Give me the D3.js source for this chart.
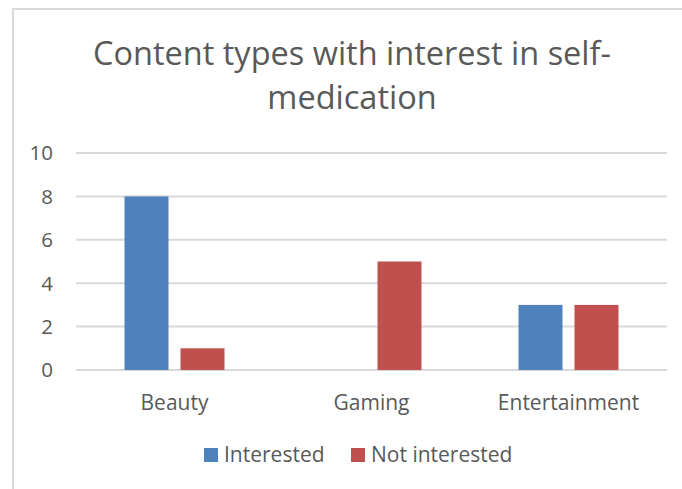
<!DOCTYPE html>
<html lang="en">
<head>
  <meta charset="UTF-8">
  <title>Content types with interest in self-medication</title>
  <script src="https://d3js.org/d3.v7.min.js"></script>
  <style>
    body { margin: 0; background: #fff; }
    text { font-family: "Open Sans", Lato, sans-serif; fill: #595959; }
    .grid line { stroke: #d9d9d9; stroke-width: 2; }
  </style>
</head>
<body>
  <script>
    const categories = ["Beauty", "Gaming", "Entertainment"];
    const seriesNames = ["Interested", "Not interested"];
    const interested = [8, 0, 3];
    const notInterested = [1, 5, 3];
    const yTicks = [0, 2, 4, 6, 8, 10];
    const titleLines = ["Content types with interest in self-", "medication"];
    const colors = ["#4f81bd", "#c0504d"];

    const W = 682, H = 489;
    const plot = {left: 76, right: 667, top: 153, bottom: 370};

    const svg = d3.select("body").append("svg")
      .attr("width", W)
      .attr("height", H);

    // chart frame (only top and left edges are visible in the crop)
    svg.append("path")
      .attr("d", "M13,489V9H682")
      .attr("fill", "none")
      .attr("stroke", "#d9d9d9")
      .attr("stroke-width", 2);

    svg.append("g")
      .selectAll("text")
      .data(titleLines)
      .join("text")
        .attr("x", 352)
        .attr("y", (d, i) => 65 + i * 44)
        .attr("text-anchor", "middle")
        .style("font-size", "32.5px")
        .text(d => d);

    const x0 = d3.scaleBand().domain(categories).range([plot.left, plot.right]);
    const y = d3.scaleLinear().domain([0, 10]).range([plot.bottom, plot.top]);

    const barW = 44, gap = 12;

    svg.append("g")
      .attr("class", "grid")
      .selectAll("line")
      .data(yTicks)
      .join("line")
        .attr("x1", plot.left)
        .attr("x2", plot.right)
        .attr("y1", d => y(d))
        .attr("y2", d => y(d));

    svg.append("g")
      .selectAll("text")
      .data(yTicks)
      .join("text")
        .attr("x", 53)
        .attr("y", d => y(d))
        .attr("dy", "0.36em")
        .attr("text-anchor", "end")
        .style("font-size", "20.5px")
        .text(d => d);

    const rows = categories.map((c, i) => ({cat: c, vals: [interested[i], notInterested[i]]}));

    const groups = svg.append("g")
      .selectAll("g")
      .data(rows)
      .join("g");

    groups.selectAll("rect")
      .data(d => d.vals.map((v, k) => ({cat: d.cat, v, k})))
      .join("rect")
        .filter(d => d.v > 0)
        .attr("x", d => x0(d.cat) + x0.bandwidth() / 2 + (d.k === 0 ? -gap / 2 - barW : gap / 2))
        .attr("y", d => y(d.v))
        .attr("width", barW)
        .attr("height", d => y(0) - y(d.v))
        .attr("fill", d => colors[d.k]);

    svg.append("g")
      .selectAll("text")
      .data(categories)
      .join("text")
        .attr("x", d => x0(d) + x0.bandwidth() / 2)
        .attr("y", 410)
        .attr("text-anchor", "middle")
        .style("font-size", "21px")
        .text(d => d);

    // legend
    const legendX = [204, 351];
    const lg = svg.append("g")
      .selectAll("g")
      .data(seriesNames)
      .join("g")
        .attr("transform", (d, i) => `translate(${legendX[i]},448)`);
    lg.append("rect")
      .attr("width", 14)
      .attr("height", 14)
      .attr("fill", (d, i) => colors[i]);
    lg.append("text")
      .attr("x", 20)
      .attr("y", 14)
      .style("font-size", "21px")
      .text(d => d);
  </script>
</body>
</html>
